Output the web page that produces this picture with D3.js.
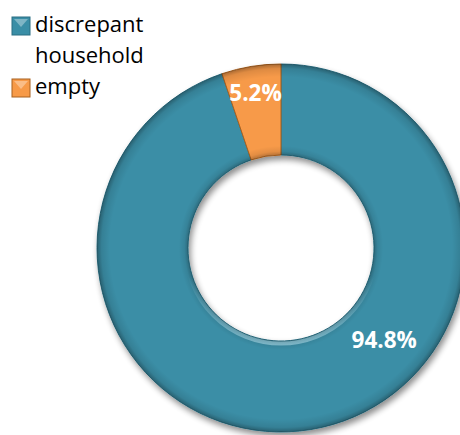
<!DOCTYPE html>
<html>
<head>
<meta charset="utf-8">
<script src="https://cdn.jsdelivr.net/npm/d3@7"></script>
<style>
  html, body { margin: 0; padding: 0; background: #ffffff; }
  svg { display: block; }
</style>
</head>
<body>
<svg id="chart" width="460" height="435"></svg>
<script>
// Share of records by status
const categories = ["discrepant household", "empty"];
const values = [94.8, 5.2];
const valueLabels = ["94.8%", "5.2%"];
const colors = ["#3a8ea6", "#f79a48"];
const edgeColors = ["#2b6f83", "#a8601f"];
const legendLines = [["discrepant", "household"], ["empty"]];

const svg = d3.select("#chart");
const cx = 281, cy = 248;
const outerR = 184, innerR = 93;

const defs = svg.append("defs");

// soft drop shadow under the ring
const shadow = defs.append("filter").attr("id", "ringShadow")
  .attr("x", "-20%").attr("y", "-20%").attr("width", "140%").attr("height", "140%");
shadow.append("feGaussianBlur").attr("in", "SourceAlpha").attr("stdDeviation", 3).attr("result", "blur");
shadow.append("feOffset").attr("in", "blur").attr("dx", 2).attr("dy", 4).attr("result", "off");
shadow.append("feComponentTransfer").attr("in", "off").attr("result", "faded")
  .append("feFuncA").attr("type", "linear").attr("slope", 0.45);
const merge = shadow.append("feMerge");
merge.append("feMergeNode").attr("in", "faded");
merge.append("feMergeNode").attr("in", "SourceGraphic");

// bevel shading across the ring width
const bevel = defs.append("radialGradient").attr("id", "bevel")
  .attr("gradientUnits", "userSpaceOnUse")
  .attr("cx", 0).attr("cy", 0).attr("r", outerR);
const rin = innerR / outerR;
[
  [rin, "#000", 0.25],
  [rin + 0.02, "#000", 0.08],
  [rin + 0.05, "#000", 0.0],
  [0.93, "#000", 0.0],
  [0.975, "#000", 0.10],
  [1.0, "#000", 0.32]
].forEach(([o, c, a]) => bevel.append("stop")
  .attr("offset", o).attr("stop-color", c).attr("stop-opacity", a));

// highlight on the lower inner rim
const rim = defs.append("linearGradient").attr("id", "rim")
  .attr("x1", 0).attr("y1", 0).attr("x2", 0).attr("y2", 1);
rim.append("stop").attr("offset", 0).attr("stop-color", "#bfe6f2").attr("stop-opacity", 0);
rim.append("stop").attr("offset", 0.65).attr("stop-color", "#bfe6f2").attr("stop-opacity", 0);
rim.append("stop").attr("offset", 1).attr("stop-color", "#cdeef8").attr("stop-opacity", 0.45);

const pie = d3.pie().sort(null).value(d => d).startAngle(0).endAngle(2 * Math.PI);
const arcs = pie(values);
const arc = d3.arc().innerRadius(innerR).outerRadius(outerR);

const g = svg.append("g").attr("transform", `translate(${cx},${cy})`);
const ring = g.append("g").attr("filter", "url(#ringShadow)");

ring.selectAll("path.slice").data(arcs).join("path")
  .attr("class", "slice")
  .attr("d", arc)
  .attr("fill", (d, i) => colors[i])
  .attr("stroke", (d, i) => edgeColors[i])
  .attr("stroke-width", 1);

// bevel overlay across each slice
g.selectAll("path.shade").data(arcs).join("path")
  .attr("class", "shade")
  .attr("d", arc)
  .attr("fill", "url(#bevel)")
  .attr("pointer-events", "none");

// light rim along the bottom of the hole
g.append("circle")
  .attr("r", innerR + 2.5)
  .attr("fill", "none")
  .attr("stroke", "url(#rim)")
  .attr("stroke-width", 4);

// value labels placed along the ring
const labelPlacement = [
  { angle: (131.8 / 180) * Math.PI, radius: (innerR + outerR) / 2 },
  { angle: null, radius: 157 }
];
const labelPos = (d, i) => {
  const p = labelPlacement[i];
  const a = p.angle == null ? (d.startAngle + d.endAngle) / 2 : p.angle;
  return [p.radius * Math.sin(a), -p.radius * Math.cos(a)];
};
g.selectAll("text.value").data(arcs).join("text")
  .attr("class", "value")
  .attr("x", (d, i) => labelPos(d, i)[0])
  .attr("y", (d, i) => labelPos(d, i)[1])
  .attr("text-anchor", "middle")
  .attr("dy", "0.36em")
  .attr("font-family", "'Open Sans', sans-serif")
  .attr("font-weight", "bold")
  .attr("font-size", 22.5)
  .attr("fill", "#ffffff")
  .text((d, i) => valueLabels[i]);

// legend
const legend = svg.append("g").attr("transform", "translate(12,0)");
const lineH = 31;
let row = 0;
categories.forEach((c, i) => {
  const y0 = 32 + row * lineH;
  const item = legend.append("g");
  const sq = 18;
  const top = y0 - 15;
  item.append("rect")
    .attr("x", 0).attr("y", top).attr("width", sq).attr("height", sq)
    .attr("fill", colors[i]).attr("stroke", edgeColors[i]).attr("stroke-width", 1);
  item.append("path")
    .attr("d", `M${2},${top + 2} L${sq - 2},${top + 2} L${sq / 2},${top + sq / 2 + 1} Z`)
    .attr("fill", "#ffffff").attr("fill-opacity", 0.35);
  legendLines[i].forEach((t, k) => {
    item.append("text")
      .attr("x", 23).attr("y", y0 + k * lineH)
      .attr("font-family", "'Open Sans', sans-serif")
      .attr("font-size", 22)
      .attr("fill", "#000000")
      .text(t);
  });
  row += legendLines[i].length;
});
</script>
</body>
</html>
